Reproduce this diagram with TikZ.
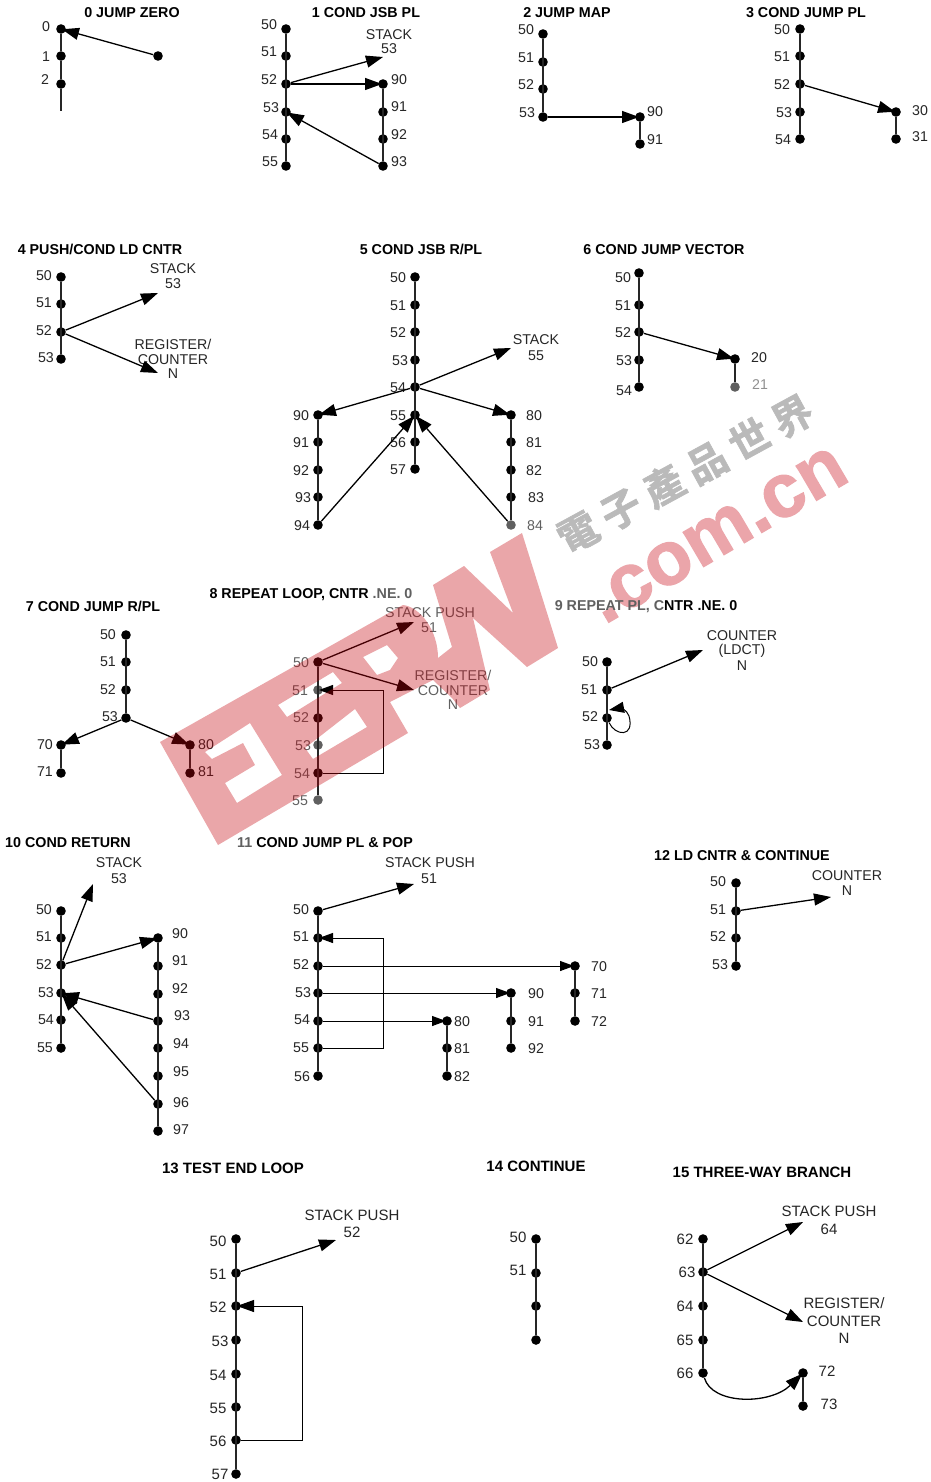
\documentclass[tikz,border=0pt]{standalone}
\usepackage{fontspec}
\setmainfont{Liberation Sans}
\newfontfamily\wmcjk[LetterSpace=22,FakeBold=1.5]{Noto Sans CJK TC Bold}
\newfontfamily\wmlat[FakeBold=1.5]{Liberation Sans Bold}
\usetikzlibrary{arrows.meta}
\definecolor{wmred}{RGB}{197,0,10}
\definecolor{wmpink}{RGB}{235,165,170}
\definecolor{wash}{RGB}{96,96,96}
\tikzset{
  x=1pt,y=-1pt,
  dotn/.style={circle,fill=black,draw=none,inner sep=0pt,minimum size=9.6pt},
  lbl/.style={inner sep=0pt,yshift=-.5pt,font=\fontsize{14.2}{14.2}\selectfont,text=black!85},
  biglbl/.style={inner sep=0pt,font=\fontsize{15}{15}\selectfont,text=black!85},
  ttl/.style={inner sep=0pt,yshift=-.7pt,font=\bfseries\fontsize{14.3}{14.3}\selectfont},
  bigttl/.style={inner sep=0pt,font=\bfseries\fontsize{15}{15}\selectfont},
  seg/.style={line width=1.5pt,black!85},
  arr/.style={line width=1.3pt,-{Triangle[length=17pt,width=12pt]}},
  arrn/.style={arr,shorten >=-4pt},
  wire/.style={line width=1pt},
  wiren/.style={wire,-{Triangle[length=14pt,width=10pt]},shorten >=-4pt},
}
\newcommand{\D}[4][]{\node[dotn,#1] (#2) at (#3,#4) {};}
\newcommand{\Lb}[4][lbl]{\node[#1] at (#3,#4) {#2};}
\begin{document}
\begin{tikzpicture}
\useasboundingbox (0,0) rectangle (930,1482);
\fill[white] (0,0) rectangle (930,1482);
\node[rotate=30.4,inner sep=0pt,text=wmpink,font=\wmlat\fontsize{76}{76}\selectfont] (wm1) at (718,535) {.com.cn};

% ---- 0
\node[ttl] (t0) at (132,12) {0 JUMP ZERO};
\D{a0}{61}{29}\D{a1}{61}{56}\D{a2}{61}{84}\D{az}{158}{56}
\coordinate (aend) at (61,111);
\draw[seg] (a0)--(a1)--(a2)--(aend);
\draw[arrn] (az)--(a0);
\Lb{0}{46}{26}\Lb{1}{46}{56}\Lb{2}{45}{79}

% ---- 1
\node[ttl] (t1) at (366,12) {1 COND JSB PL};
\foreach \n/\y/\l/\lx in {0/29/50/269,1/56/51/269,2/84/52/269,3/112/53/271,4/139/54/270,5/166/55/270}{
  \D{b\n}{286}{\y}\Lb{\l}{\lx}{\y-5}}
\draw[seg] (b0)--(b5);
\foreach \n/\y/\l/\ly in {0/84/90/79,1/112/91/106,2/139/92/134,3/166/93/161}{
  \D{c\n}{383}{\y}\Lb{\l}{399}{\ly}}
\draw[seg] (c0)--(c3);
\Lb{STACK}{389}{34}\Lb{53}{389}{48}
\coordinate (bs) at (383,57);
\draw[arr] (b2)--(bs);
\draw[arrn] (b2)--(c0);
\draw[arrn] (c3)--(b3);

% ---- 2
\node[ttl] (t2) at (567,12) {2 JUMP MAP};
\foreach \n/\y/\l/\lx in {0/34/50/526,1/62/51/526,2/89/52/526,3/117/53/527}{
  \D{d\n}{543}{\y}\Lb{\l}{\lx}{\y-5}}
\draw[seg] (d0)--(d3);
\D{e0}{640}{117}\D{e1}{640}{144}
\draw[seg] (e0)--(e1);
\Lb{90}{655}{111}\Lb{91}{655}{139}
\draw[arrn] (d3)--(e0);

% ---- 3
\node[ttl] (t3) at (806,12) {3 COND JUMP PL};
\foreach \n/\y/\l/\lx in {0/29/50/782,1/56/51/782,2/84/52/782,3/112/53/784,4/139/54/783}{
  \D{f\n}{800}{\y}\Lb{\l}{\lx}{\y}}
\draw[seg] (f0)--(f4);
\D{g0}{896}{112}\D{g1}{896}{139}
\draw[seg] (g0)--(g1);
\Lb{30}{920}{110}\Lb{31}{920}{136}
\draw[arrn] (f2)--(g0);

% ---- 4
\node[ttl] (t4) at (100,249) {4 PUSH/COND LD CNTR};
\foreach \n/\y/\l/\ly/\lx in {0/277/50/275/44,1/304/51/302/44,2/332/52/330/44,3/359/53/357/46}{
  \D{h\n}{61}{\y}\Lb{\l}{\lx}{\ly}}
\draw[seg] (h0)--(h3);
\Lb{STACK}{173}{268}\Lb{53}{173}{283}
\Lb{REGISTER/}{173}{344}\Lb{COUNTER}{173}{359}\Lb{N}{173}{373}
\coordinate (hs) at (158,293);\coordinate (hr) at (158,373);
\draw[arr] (h2)--(hs);
\draw[arr] (h2)--(hr);

% ---- 5
\node[ttl] (t5) at (421,249) {5 COND JSB R/PL};
\foreach \n/\y/\l/\lx in {0/277/50/398,1/305/51/398,2/332/52/398,3/360/53/400,4/387/54/398,5/415/55/398,6/442/56/398,7/469/57/398}{
  \D{i\n}{415}{\y}\Lb{\l}{\lx}{\y}}
\draw[seg] (i0)--(i7);
\foreach \n/\y/\l/\lx in {0/415/90/301,1/442/91/301,2/470/92/301,3/497/93/303,4/525/94/302}{
  \D{j\n}{318}{\y}\Lb{\l}{\lx}{\y}}
\draw[seg] (j0)--(j4);
\foreach \n/\y/\l/\lx in {0/415/80/534,1/442/81/534,2/470/82/534,3/497/83/536}{
  \D{k\n}{511}{\y}\Lb{\l}{\lx}{\y}}
\D[fill=wash]{k4}{511}{525}\Lb[lbl,text=wash]{84}{535}{525}
\draw[seg] (k0)--(k4);
\Lb{STACK}{536}{339}\Lb{55}{536}{355}
\coordinate (is) at (511,348);
\draw[arr] (i4)--(is);
\draw[arrn] (i4)--(j0);
\draw[arrn] (i4)--(k0);
\draw[arrn] (j4)--(i5);
\draw[arrn] (k4)--(i5);

% ---- 6
\node[ttl] (t6) at (664,249) {6 COND JUMP VECTOR};
\foreach \n/\y/\l/\ly/\lx in {0/273/50/277/623,1/305/51/305/623,2/332/52/332/623,3/360/53/360/624,4/387/54/390/624}{
  \D{l\n}{639}{\y}\Lb{\l}{\lx}{\ly}}
\draw[seg] (l0)--(l4);
\D{m0}{735}{359}\D[fill=wash]{m1}{735}{387}
\draw[seg] (m0)--(m1);
\Lb{20}{759}{357}\Lb[lbl,text=wash!70!white]{21}{760}{384}
\draw[arrn] (l2)--(m0);

% ---- 7
\node[ttl] (t7) at (93,606) {7 COND JUMP R/PL};
\foreach \n/\y/\l/\ly/\lx in {0/635/50/634/108,1/662/51/661/108,2/690/52/689/108,3/718/53/716/110}{
  \D{n\n}{126}{\y}\Lb{\l}{\lx}{\ly}}
\draw[seg] (n0)--(n3);
\D{o0}{61}{745}\D{o1}{61}{773}\draw[seg] (o0)--(o1);
\D{p0}{190}{745}\D{p1}{190}{773}\draw[seg] (p0)--(p1);
\Lb{70}{45}{744}\Lb{71}{45}{771}\Lb{80}{206}{744}\Lb{81}{206}{771}
\draw[arrn] (n3)--(o0);
\draw[arrn] (n3)--(p0);

% ---- 8
\node[ttl] (t8) at (311,594) {8 REPEAT LOOP, CNTR \textcolor{wash}{.NE. 0}};
\D{q0}{318}{662}\D[fill=wash]{q1}{318}{690}\D{q2}{318}{718}\D[fill=wash]{q3}{318}{745}\D{q4}{318}{773}\D[fill=wash]{q5}{318}{800}
\draw[seg] (q0)--(q5);
\foreach \y/\l/\lx in {662/50/301,690/51/300,717/52/301,745/53/303,773/54/302,800/55/300}{
  \Lb[lbl,text=wash]{\l}{\lx}{\y}}
\Lb[lbl,text=wash]{STACK PUSH}{430}{612}\Lb[lbl,text=wash]{51}{429}{627}
\Lb[lbl,text=wash]{REGISTER/}{453}{675}\Lb[lbl,text=wash]{COUNTER}{453}{690}\Lb[lbl,text=wash]{N}{453}{704}
\coordinate (qs) at (414,622);\coordinate (qr) at (414,690);
\draw[arr] (q0)--(qs);
\draw[arr] (q0)--(qr);
\coordinate (qa) at (383,773);\coordinate (qb) at (383,690);
\draw[wiren] (q4)--(qa)--(qb)--(q1);

% ---- 9
\node[ttl] (t9) at (646,606) {\textcolor{wash}{9 REPEAT PL, C}NTR .NE. 0};
\foreach \n/\y/\l/\ly/\lx in {0/662/50/661/590,1/690/51/689/589,2/718/52/716/590,3/745/53/744/592}{
  \D{r\n}{607}{\y}\Lb{\l}{\lx}{\ly}}
\draw[seg] (r0)--(r3);
\Lb{COUNTER}{742}{635}\Lb{(LDCT)}{742}{650}\Lb{N}{742}{665}
\coordinate (rc) at (703,650);
\draw[arr] (r1)--(rc);
\coordinate (rl) at (629,716);
\draw[wire,-{Triangle[length=15pt,width=11pt]}] (r2) .. controls (615,736) and (635,738) .. (rl) .. controls (627,710) and (620,708) .. (609,710);

% ---- 10
\node[ttl] (t10) at (68,842) {10 COND RETURN};
\foreach \n/\y/\l/\ly/\lx in {0/911/50/909/44,1/938/51/936/44,2/965/52/964/44,3/993/53/992/46,4/1020/54/1019/46,5/1048/55/1047/45}{
  \D{s\n}{61}{\y}\Lb{\l}{\lx}{\ly}}
\draw[seg] (s0)--(s5);
\foreach \n/\y/\l/\ly/\lx in {0/938/90/933/180,1/966/91/960/180,2/994/92/988/180,3/1021/93/1015/182,4/1048/94/1043/181,5/1076/95/1071/181,6/1104/96/1102/181,7/1131/97/1129/181}{
  \D{u\n}{158}{\y}\Lb{\l}{\lx}{\ly}}
\draw[seg] (u0)--(u7);
\Lb{STACK}{119}{862}\Lb{53}{119}{878}
\coordinate (ss) at (93,884);
\draw[arr] (s2)--(ss);
\draw[arrn] (s2)--(u0);
\draw[arrn] (u3)--(s3);
\draw[arrn] (u6)--(s3);

% ---- 11
\node[ttl] (t11) at (325,842) {\textcolor{wash}{11} COND JUMP PL \& POP};
\foreach \n/\y/\l/\ly/\lx in {0/911/50/909/301,1/938/51/936/301,2/966/52/964/301,3/993/53/992/303,4/1021/54/1019/302,5/1048/55/1047/301,6/1076/56/1076/302}{
  \D{v\n}{318}{\y}\Lb{\l}{\lx}{\ly}}
\draw[seg] (v0)--(v6);
\foreach \n/\y/\l in {0/966/70,1/993/71,2/1021/72}{\D{w\n}{575}{\y}\Lb{\l}{599}{\y}}
\draw[seg] (w0)--(w2);
\foreach \n/\y/\l in {0/993/90,1/1021/91,2/1048/92}{\D{xx\n}{511}{\y}\Lb{\l}{536}{\y}}
\draw[seg] (xx0)--(xx2);
\foreach \n/\y/\l in {0/1021/80,1/1048/81,2/1076/82}{\D{yy\n}{447}{\y}\Lb{\l}{462}{\y}}
\draw[seg] (yy0)--(yy2);
\Lb{STACK PUSH}{430}{862}\Lb{51}{429}{878}
\coordinate (vs) at (414,884);
\draw[arr] (v0)--(vs);
\draw[wiren] (v2)--(w0);
\draw[wiren] (v3)--(xx0);
\draw[wiren] (v4)--(yy0);
\coordinate (va) at (383,1048);\coordinate (vb) at (383,938);
\draw[wiren] (v5)--(va)--(vb)--(v1);

% ---- 12
\node[ttl] (t12) at (742,855) {12 LD CNTR \& CONTINUE};
\foreach \n/\y/\l/\ly/\lx in {0/883/50/881/718,1/911/51/909/718,2/938/52/936/718,3/966/53/964/720}{
  \D{z\n}{736}{\y}\Lb{\l}{\lx}{\ly}}
\draw[seg] (z0)--(z3);
\Lb{COUNTER}{847}{875}\Lb{N}{847}{890}
\coordinate (zc) at (831,897);
\draw[arr] (z1)--(zc);

% ---- 13
\node[bigttl] (t13) at (233,1168) {13 TEST END LOOP};
\foreach \n/\y/\l/\ly/\lx in {0/1239/50/1241/218,1/1273/51/1274/218,2/1306/52/1307/218,3/1340/53/1341/220,4/1374/54/1375/218,5/1407/55/1408/218,6/1440/56/1441/218,7/1474/57/1474/220}{
  \D{aa\n}{236}{\y}\Lb[biglbl]{\l}{\lx}{\ly}}
\draw[seg] (aa0)--(aa7);
\Lb[biglbl]{STACK PUSH}{352}{1215}\Lb[biglbl]{52}{352}{1232}
\coordinate (aas) at (336,1240);
\draw[arr] (aa1)--(aas);
\coordinate (aap) at (302,1440);\coordinate (aaq) at (302,1306);
\draw[wire,-{Triangle[length=17pt,width=12pt]},shorten >=-4pt] (aa6)--(aap)--(aaq)--(aa2);

% ---- 14
\node[bigttl] (t14) at (536,1166) {14 CONTINUE};
\foreach \n/\y in {0/1239,1/1273,2/1306,3/1340}{\D{bb\n}{536}{\y}}
\draw[seg] (bb0)--(bb3);
\Lb[biglbl]{50}{518}{1237}\Lb[biglbl]{51}{518}{1270}

% ---- 15
\node[bigttl] (t15) at (762,1172) {15 THREE-WAY BRANCH};
\foreach \n/\y/\l/\lx in {0/1239/62/685,1/1272/63/687,2/1306/64/685,3/1340/65/685,4/1373/66/685}{
  \D{cc\n}{703}{\y}\Lb[biglbl]{\l}{\lx}{\y}}
\draw[seg] (cc0)--(cc4);
\D{dd0}{803}{1373}\D{dd1}{803}{1406}
\draw[seg] (dd0)--(dd1);
\Lb[biglbl]{72}{827}{1371}\Lb[biglbl]{73}{829}{1404}
\Lb[biglbl]{STACK PUSH}{829}{1211}\Lb[biglbl]{64}{829}{1229}
\Lb[biglbl]{REGISTER/}{844}{1303}\Lb[biglbl]{COUNTER}{844}{1321}\Lb[biglbl]{N}{844}{1338}
\coordinate (ccs) at (803,1222);\coordinate (ccr) at (803,1322);
\draw[arr] (cc1)--(ccs);
\draw[arr] (cc1)--(ccr);
\draw[arrn] (cc4) .. controls (712,1405) and (770,1405) .. (dd0);

% ---- watermark
\fill[wmred,opacity=.35,even odd rule]
  (160,742) -- (403,605) .. controls (420,607) and (438,630) .. (438,658) -- (452,647) -- (433,585) -- (464,566) -- (513,613) -- (490,552) -- (522,533) -- (558,648) -- (527,667) -- (473,618) -- (490,690) -- (460,708) -- (452,698) -- (433,680) -- (390,702) -- (408,733) -- (218,845) -- cycle
  (205,752) -- (250,723) -- (282,775) -- (237,803) -- (225,783) -- (255,765) -- (243,743) -- (212,759) -- cycle
  (278,705) -- (333,672) -- (342,683) -- (287,717) -- cycle
  (305,748) -- (355,709) -- (367,727) -- (313,759) -- cycle
  (363,657) -- (387,645) -- (398,658) -- (390,670) -- (377,675) -- cycle;
\node[rotate=28.6,inner sep=0pt,text=black!27,font=\wmcjk\fontsize{40}{40}\selectfont] (wm2) at (685,474) {電子產品世界};
\end{tikzpicture}
\end{document}
